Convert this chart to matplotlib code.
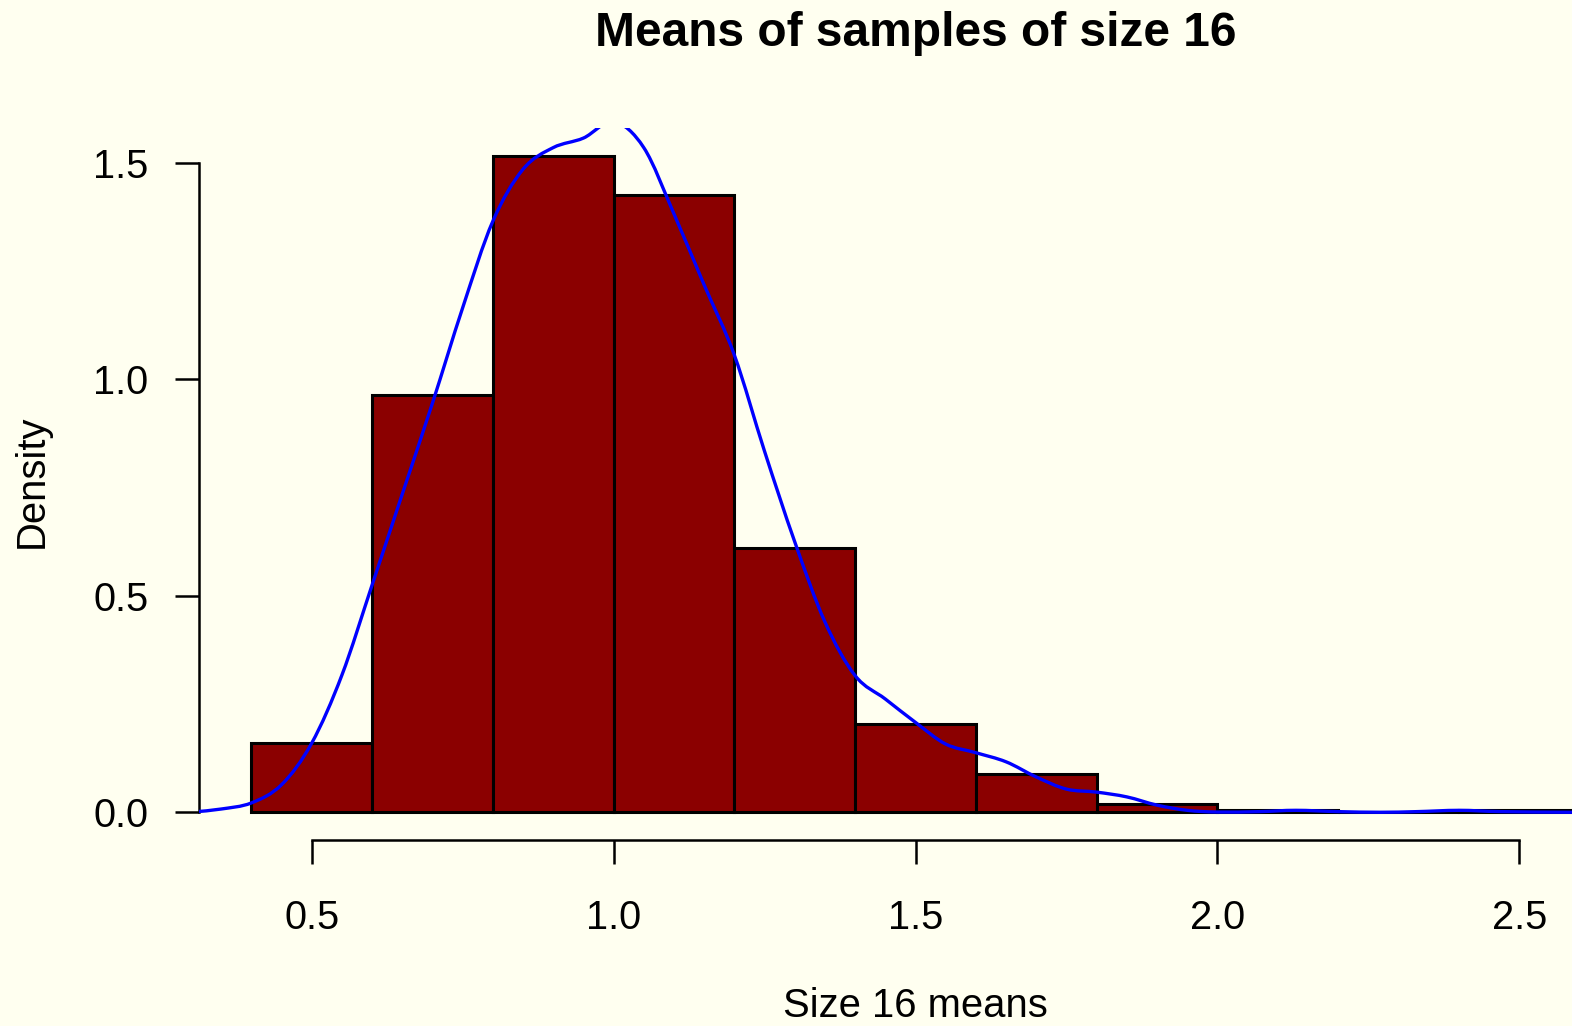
import matplotlib
matplotlib.use("Agg")
import matplotlib.pyplot as plt
from matplotlib.path import Path
from matplotlib.patches import PathPatch

# Histogram of sample means (density scale), bins of width 0.2
bin_left = [0.4, 0.6, 0.8, 1.0, 1.2, 1.4, 1.6, 1.8, 2.0, 2.2, 2.4]
bin_density = [0.16, 0.965, 1.515, 1.425, 0.61, 0.205, 0.09, 0.02, 0.005, 0.0, 0.005]
bin_width = 0.2

# Kernel density estimate of the same means
kde_x = [0.31, 0.35, 0.40, 0.45, 0.50, 0.55, 0.60, 0.65, 0.70, 0.75,
         0.80, 0.85, 0.90, 0.95, 1.00, 1.05, 1.10, 1.15, 1.20, 1.25,
         1.30, 1.35, 1.40, 1.45, 1.50, 1.55, 1.60, 1.65, 1.70, 1.75,
         1.80, 1.85, 1.90, 1.95, 2.00, 2.07, 2.13, 2.20, 2.27, 2.33,
         2.40, 2.47, 2.585, 2.70]
kde_y = [0.002, 0.008, 0.022, 0.064, 0.160, 0.317, 0.525, 0.735, 0.945, 1.165,
         1.365, 1.485, 1.535, 1.557, 1.595, 1.535, 1.382, 1.218, 1.056, 0.834,
         0.625, 0.440, 0.316, 0.262, 0.208, 0.158, 0.138, 0.117, 0.082, 0.054,
         0.047, 0.036, 0.017, 0.005, 0.001, 0.002, 0.005, 0.002, 0.0005, 0.002,
         0.005, 0.002, 0.0005, 0.0]

x_ticks = [0.5, 1.0, 1.5, 2.0, 2.5]
y_ticks = [0.0, 0.5, 1.0, 1.5]
x_ticklabels = ["0.5", "1.0", "1.5", "2.0", "2.5"]
y_ticklabels = ["0.0", "0.5", "1.0", "1.5"]

title = "Means of samples of size 16"
xlabel = "Size 16 means"
ylabel = "Density"

bg = "#FFFFF0"
font = ["Liberation Sans", "DejaVu Sans"]
plt.rcParams["font.family"] = font


def smooth_path(xs, ys):
    """Cubic Bezier path through every point (Catmull-Rom tangents)."""
    pts = list(zip(xs, ys))
    n = len(pts)
    verts = [pts[0]]
    codes = [Path.MOVETO]
    for i in range(n - 1):
        p0 = pts[max(i - 1, 0)]
        p1 = pts[i]
        p2 = pts[i + 1]
        p3 = pts[min(i + 2, n - 1)]
        c1 = (p1[0] + (p2[0] - p0[0]) / 6, p1[1] + (p2[1] - p0[1]) / 6)
        c2 = (p2[0] - (p3[0] - p1[0]) / 6, p2[1] - (p3[1] - p1[1]) / 6)
        verts += [c1, c2, p2]
        codes += [Path.CURVE4] * 3
    return Path(verts, codes)


W, H = 1572, 1026
fig = plt.figure(figsize=(W / 100, H / 100), dpi=100, facecolor=bg)

# plot region in pixels (extends past the right edge of the canvas)
left_px, right_px, top_px, bottom_px = 199, 1632, 127.7, 840
ax = fig.add_axes([left_px / W, 1 - bottom_px / H,
                   (right_px - left_px) / W, (bottom_px - top_px) / H])
ax.set_facecolor(bg)
ax.set_xlim(0.3134, 2.6866)
ax.set_ylim(-0.0635, 1.581)

ax.bar(bin_left, bin_density, width=bin_width, align="edge",
       color="#8B0000", edgecolor="black", linewidth=2.2, zorder=2)
curve = PathPatch(smooth_path(kde_x, kde_y), facecolor="none",
                  edgecolor="#0000FF", linewidth=2.4, zorder=3,
                  joinstyle="round", capstyle="round")
ax.add_patch(curve)

for s in ("top", "right"):
    ax.spines[s].set_visible(False)
ax.spines["bottom"].set_bounds(x_ticks[0], x_ticks[-1])
ax.spines["left"].set_bounds(y_ticks[0], y_ticks[-1])
for s in ("bottom", "left"):
    ax.spines[s].set_linewidth(1.8)
    ax.spines[s].set_capstyle("projecting")

ax.set_xticks(x_ticks)
ax.set_xticklabels(x_ticklabels)
ax.set_yticks(y_ticks)
ax.set_yticklabels(y_ticklabels)
ax.tick_params(axis="both", direction="out", length=17.3, width=1.8,
               labelsize=28.6, colors="black")
ax.tick_params(axis="x", pad=25)
ax.tick_params(axis="y", pad=19)

fig.text(915.5 / W, 1 - 45.5 / H, title, ha="center", va="baseline",
         fontsize=34.5, fontweight="bold")
fig.text(915.5 / W, 1 - 1016.7 / H, xlabel, ha="center", va="baseline",
         fontsize=28.8)
fig.text(43 / W, 1 - 481.5 / H, ylabel, ha="center", va="baseline",
         rotation=90, rotation_mode="anchor", fontsize=28.8)

fig.savefig("out.png", dpi=100, facecolor=bg)
